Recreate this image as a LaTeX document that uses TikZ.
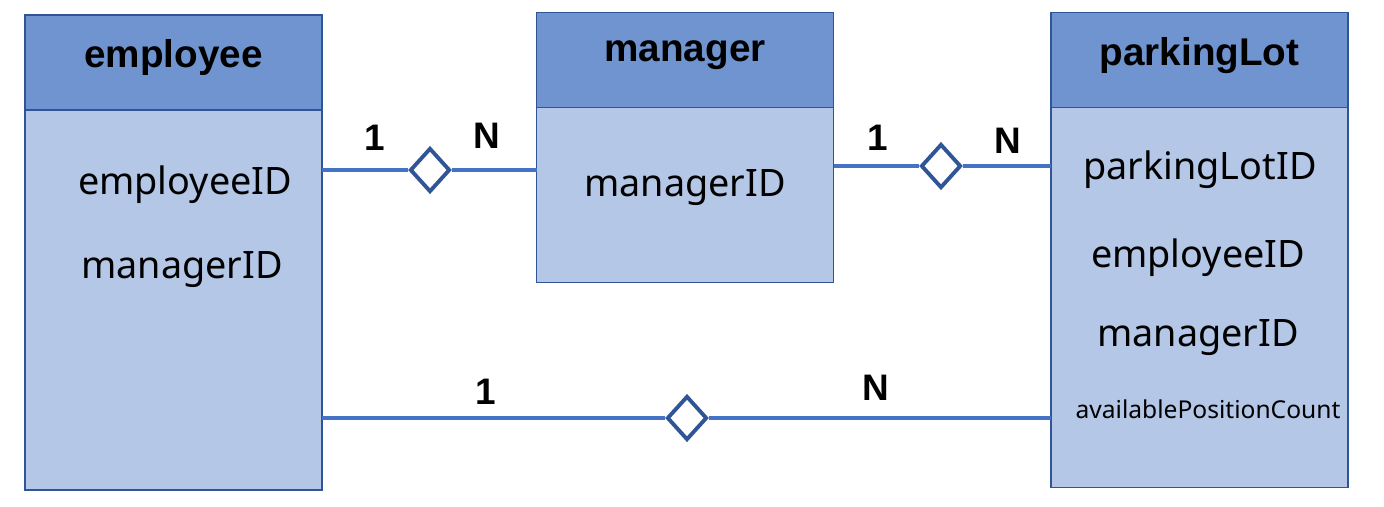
\documentclass[tikz,border=0pt]{standalone}
\usepackage{fontspec}
\setmainfont{Noto Sans}
\newfontfamily\headfont{Liberation Sans}
\usepackage{xcolor}
\usetikzlibrary{positioning,shapes.geometric}
\definecolor{headfill}{HTML}{7094D0}
\definecolor{bodyfill}{HTML}{B4C7E7}
\definecolor{edge}{HTML}{2F5597}
\definecolor{linkblue}{HTML}{4472C4}

\begin{document}
\begin{tikzpicture}[
    head/.style={draw=edge,fill=headfill,line width=1.1pt,minimum width=5.94cm,
                 minimum height=1.9cm,inner sep=0pt,outer sep=0pt,text depth=0.36cm,
                 font=\headfont\fontsize{22}{26}\selectfont\bfseries},
    body/.style={draw=edge,fill=bodyfill,line width=1.1pt,minimum width=5.94cm,
                 inner sep=0pt,outer sep=0pt},
    attr/.style={font=\fontsize{21.5}{26}\selectfont,inner sep=0pt},
    card/.style={font=\headfont\fontsize{21}{25}\selectfont\bfseries,inner sep=0pt},
    rel/.style={draw=edge,fill=white,shape=diamond,line width=2.2pt,inner sep=0pt,
                minimum width=0.8cm,minimum height=0.88cm},
    link/.style={draw=linkblue,line width=2.2pt},
  ]
  \useasboundingbox (0,0) rectangle (27.68,-10.12);

  % entities
  \node[head] (emp) at (3.47,-1.25) {employee};
  \node[body,minimum height=7.6cm,below=0pt of emp] (empbody) {};
  \node[head] (mgr) at (13.70,-1.2) {manager};
  \node[body,minimum height=3.5cm,below=0pt of mgr] (mgrbody) {};
  \node[head] (lot) at (23.99,-1.2) {parkingLot};
  \node[body,minimum height=7.6cm,below=0pt of lot] (lotbody) {};

  \node[attr] (empid) at (3.7,-3.7) {employeeID};
  \node[attr] (empmgr) at (3.64,-5.4) {managerID};
  \node[attr] (mgrid) at (13.7,-3.76) {managerID};
  \node[attr] (lotid) at (24.0,-3.4) {parkingLotID};
  \node[attr] (lotemp) at (23.96,-5.16) {employeeID};
  \node[attr] (lotmgr) at (23.96,-6.76) {managerID};
  \node[attr,font=\fontsize{14}{17}\selectfont] (lotcount) at (24.16,-8.18) {availablePositionCount};

  % relations
  \node[rel] (r1) at (8.6,-3.4) {};
  \node[rel] (r2) at (18.82,-3.32) {};
  \node[rel] (r3) at (13.74,-8.36) {};
  \draw[link] (r1.west) -- (r1.west -| empbody.east);
  \draw[link] (r1.east) -- (r1.east -| mgrbody.west);
  \draw[link] (r2.west) -- (r2.west -| mgrbody.east);
  \draw[link] (r2.east) -- (r2.east -| lotbody.west);
  \draw[link] (r3.west) -- (r3.west -| empbody.east);
  \draw[link] (r3.east) -- (r3.east -| lotbody.west);

  \node[card] (c1a) at (7.5,-2.76) {1};
  \node[card] (c1b) at (9.74,-2.72) {N};
  \node[card] (c2a) at (17.56,-2.76) {1};
  \node[card] (c2b) at (20.16,-2.82) {N};
  \node[card] (c3a) at (9.72,-7.84) {1};
  \node[card] (c3b) at (17.52,-7.76) {N};
\end{tikzpicture}
\end{document}
